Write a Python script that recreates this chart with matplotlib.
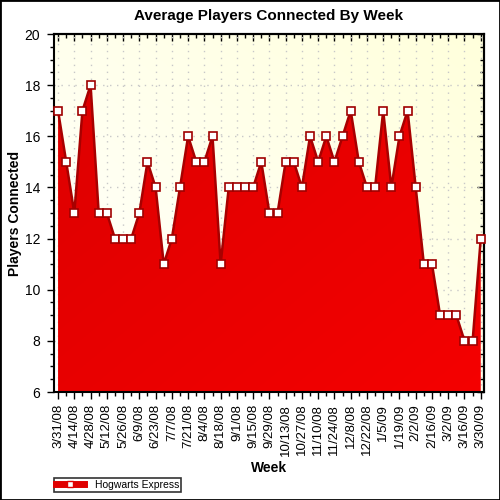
import numpy as np
import matplotlib
matplotlib.use("Agg")
from matplotlib import pyplot as plt
from matplotlib.ticker import MultipleLocator
from matplotlib.lines import Line2D
from matplotlib.patches import Rectangle

matplotlib.rcParams["font.family"] = ["Liberation Sans", "DejaVu Sans"]

weeks = ["3/31/08", "4/7/08", "4/14/08", "4/21/08", "4/28/08", "5/5/08", "5/12/08",
         "5/19/08", "5/26/08", "6/2/08", "6/9/08", "6/16/08", "6/23/08", "6/30/08",
         "7/7/08", "7/14/08", "7/21/08", "7/28/08", "8/4/08", "8/11/08", "8/18/08",
         "8/25/08", "9/1/08", "9/8/08", "9/15/08", "9/22/08", "9/29/08", "10/6/08",
         "10/13/08", "10/20/08", "10/27/08", "11/3/08", "11/10/08", "11/17/08",
         "11/24/08", "12/1/08", "12/8/08", "12/15/08", "12/22/08", "12/29/08",
         "1/5/09", "1/12/09", "1/19/09", "1/26/09", "2/2/09", "2/9/09", "2/16/09",
         "2/23/09", "3/2/09", "3/9/09", "3/16/09", "3/23/09", "3/30/09"]
players = [17, 15, 13, 17, 18, 13, 13, 12, 12, 12, 13, 15, 14, 11, 12, 14, 16, 15,
           15, 16, 11, 14, 14, 14, 14, 15, 13, 13, 15, 15, 14, 16, 15, 16, 15, 16,
           17, 15, 14, 14, 17, 14, 16, 17, 14, 11, 11, 9, 9, 9, 8, 8, 12]
series_name = "Hogwarts Express"

x = np.arange(len(players))

fig = plt.figure(figsize=(5, 5), dpi=100)
ax = fig.add_axes([0.108, 0.216, 0.860, 0.716])
ymin, ymax = 6, 20
xmin, xmax = -0.5, 52.4

# background gradient: white bottom-left to light yellow top-right
gx, gy = np.meshgrid(np.linspace(0, 1, 200), np.linspace(0, 1, 200))
t = np.clip((gx + (1 - gy)) / 2, 0, 1)
c0 = np.array([1.0, 1.0, 1.0])
c1 = np.array([1.0, 1.0, 0.86])
bg = c0 + (c1 - c0) * t[..., None]
ax.imshow(bg, extent=[xmin, xmax, ymin, ymax], origin="upper", aspect="auto", zorder=0)

ax.grid(True, which="major", color="#c8c8c8", ls=(0, (1, 4)), lw=1, zorder=1)

# red area with gradient (darker top-left, brighter bottom-right)
poly = ax.fill_between(x, players, ymin, color="none", zorder=2)
rg = np.clip((gx + gy) / 2, 0, 1)
r0 = np.array([0.86, 0.0, 0.0])
r1 = np.array([0.96, 0.0, 0.0])
rimg = r0 + (r1 - r0) * rg[..., None]
im = ax.imshow(rimg, extent=[xmin, xmax, ymin, ymax], origin="upper", aspect="auto", zorder=2)
im.set_clip_path(poly.get_paths()[0], transform=ax.transData)

ax.plot(x, players, color="#a80000", lw=1.8, zorder=3)
ax.plot(x, players, ls="none", marker="s", ms=6, mfc="white", mec="#a00000", mew=1.2,
        zorder=4, clip_on=False)

ax.set_xlim(xmin, xmax)
ax.set_ylim(ymin, ymax)
ax.yaxis.set_major_locator(MultipleLocator(2))
ax.yaxis.set_minor_locator(MultipleLocator(0.5))
ax.set_xticks(x[::2])
ax.set_xticks(x, minor=True)
ax.set_xticklabels(weeks[::2], rotation=90, fontsize=9.5)
ax.tick_params(axis="y", labelsize=10, pad=5)
ax.tick_params(which="major", length=5, width=1, direction="out")
ax.tick_params(which="minor", length=3, width=1, direction="out")

# inward ticks on top and right
top = ax.secondary_xaxis("top")
top.set_xticks(x[::2])
top.set_xticks(x, minor=True)
top.tick_params(which="major", direction="in", length=5, width=1, labeltop=False)
top.tick_params(which="minor", direction="in", length=3, width=1)
right = ax.secondary_yaxis("right")
right.yaxis.set_major_locator(MultipleLocator(2))
right.yaxis.set_minor_locator(MultipleLocator(0.5))
right.tick_params(which="major", direction="in", length=5, width=1, labelright=False)
right.tick_params(which="minor", direction="in", length=3, width=1)

for s in ax.spines.values():
    s.set_linewidth(1.5)
for s in top.spines.values():
    s.set_linewidth(1.5)
for s in right.spines.values():
    s.set_linewidth(1.5)

ax.set_title("Average Players Connected By Week", fontsize=11, fontweight="bold", pad=10)
ax.set_xlabel("Week", fontsize=10, fontweight="bold", labelpad=4)
ax.set_ylabel("Players Connected", fontsize=10, fontweight="bold")
ax.yaxis.set_label_coords(-0.074, 0.5)

handle = Line2D([0], [0], color="#e00000", lw=5, marker="s", ms=5, mfc="white", mec="#e00000")
leg = fig.legend([handle], [series_name], loc="lower left", bbox_to_anchor=(0.104, 0.012),
                 fontsize=7.5, frameon=True, fancybox=False, edgecolor="black",
                 handlelength=2.7, handletextpad=1.0, borderpad=0.2, borderaxespad=0.2)
leg.get_frame().set_linewidth(1.2)

fig.patches.append(Rectangle((0, 0), 1, 1, transform=fig.transFigure, fill=False,
                             edgecolor="black", lw=2))
fig.savefig("out.png", dpi=100)
